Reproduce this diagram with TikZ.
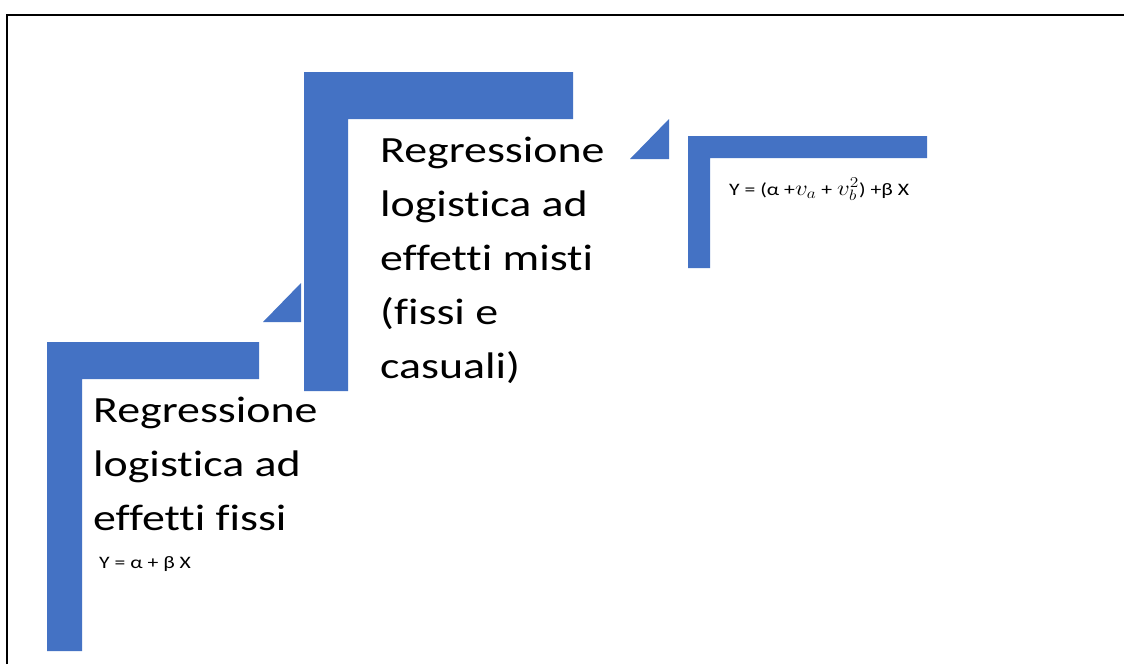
\documentclass[tikz,border=0pt]{standalone}
\usepackage{fontspec}
\setmainfont{Carlito}[Ligatures={NoCommon}]
\newfontfamily\widefont[FakeStretch=1.24,Ligatures={NoCommon}]{Carlito}
\definecolor{stepblue}{HTML}{4472C4}
\newcommand{\mathvar}[1]{\scalebox{1.45}[1.25]{$#1$}}
\tikzset{
  stepshape/.style={fill=stepblue, draw=none},
  bigtext/.style={inner sep=0pt, anchor=base west, align=left,
    font=\widefont\fontsize{37}{54}\selectfont},
  formula/.style={inner sep=0pt, anchor=base west,
    font=\widefont\fontsize{17.5}{20}\selectfont}
}
\begin{document}
\begin{tikzpicture}[x=1pt,y=-1pt]
  \useasboundingbox (0,0) rectangle (1124,664);
  \fill[white] (0,0) rectangle (1124,664);
  % frame
  \draw[line width=2pt] (7,664) -- (7,15) -- (1124,15);
  % first step
  \fill[stepshape] (47,651) -- (47,342) -- (259,342) -- (259,379) -- (82,379) -- (82,651) -- cycle;
  \fill[stepshape] (263,322) -- (301,283) -- (301,322) -- cycle;
  % second step
  \fill[stepshape] (304,391) -- (304,72) -- (573,72) -- (573,119) -- (348,119) -- (348,391) -- cycle;
  \fill[stepshape] (630,159) -- (669,119) -- (669,159) -- cycle;
  % third step
  \fill[stepshape] (688,268) -- (688,136) -- (927,136) -- (927,158) -- (710,158) -- (710,268) -- cycle;
  % labels (base anchor = baseline of the last line)
  \node[bigtext] (fixed) at (93,530) {Regressione\\logistica ad\\effetti fissi};
  \node[formula] (fixedeq) at (99,568) {Y = α + β X};
  \node[bigtext] (mixed) at (380,378) {Regressione\\logistica ad\\effetti misti\\(fissi e\\casuali)};
  \node[formula] (mixedeq) at (729,195) {Y = (α +\mathvar{v_a} + \mathvar{v_b^2}) +β X};
\end{tikzpicture}
\end{document}
